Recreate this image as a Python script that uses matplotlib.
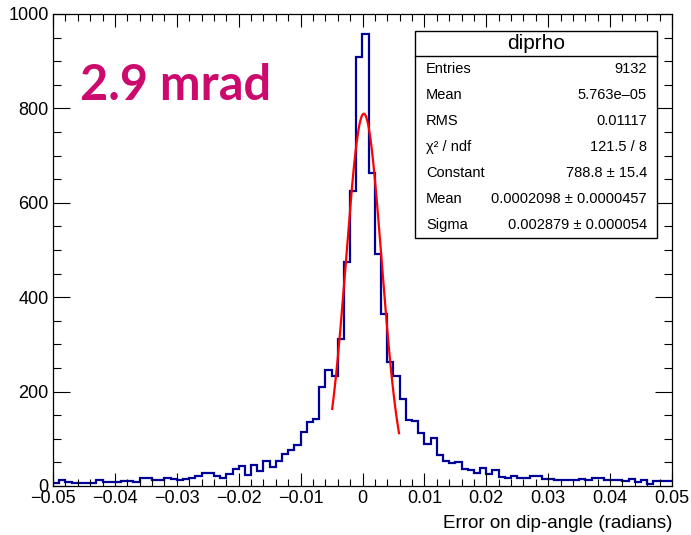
import numpy as np
import matplotlib.pyplot as plt
from matplotlib.patches import Rectangle
from matplotlib.ticker import MultipleLocator

plt.rcParams['font.family'] = ['Liberation Sans', 'DejaVu Sans']

W, H = 691, 535

# histogram "diprho": 100 bins from -0.05 to 0.05
x_lo, x_hi, n_bins = -0.05, 0.05, 100
counts = [6, 13, 9, 7, 6, 6, 7, 13, 9, 9,
          9, 11, 11, 9, 16, 16, 13, 13, 18, 14,
          13, 15, 17, 22, 28, 28, 22, 17, 26, 36,
          43, 24, 44, 32, 54, 41, 52, 68, 77, 86,
          114, 136, 142, 210, 245, 234, 311, 475, 626, 908,
          958, 664, 491, 365, 262, 234, 185, 140, 138, 113,
          89, 102, 66, 54, 49, 51, 37, 33, 27, 38,
          26, 34, 19, 16, 21, 18, 16, 21, 21, 14,
          14, 13, 13, 13, 13, 15, 13, 16, 16, 13,
          13, 13, 11, 15, 8, 12, 5, 10, 10, 10]

# gaussian fit parameters (from stats box)
fit_const, fit_mean, fit_sigma = 788.8, 0.0002098, 0.002879
fit_lo, fit_hi = -0.0049, 0.0059

stat_title = "diprho"
stat_names = ["Entries", "Mean", "RMS", "\u03c7\u00b2 / ndf", "Constant", "Mean", "Sigma"]
stat_values = ["9132", "5.763e\u201305", "0.01117", "121.5 / 8", "788.8 \u00b1 15.4",
               "0.0002098 \u00b1 0.0000457", "0.002879 \u00b1 0.000054"]

note = "2.9 mrad"
xlabel = "Error on dip-angle (radians)"

fig = plt.figure(figsize=(W / 100, H / 100), dpi=100)
ax = fig.add_axes([53 / W, 1 - 486 / H, (672 - 53) / W, (486 - 14) / H])

edges = np.linspace(x_lo, x_hi, n_bins + 1)
ax.stairs(counts, edges, color='#000099', linewidth=1.6, baseline=None)

xf = np.linspace(fit_lo, fit_hi, 200)
yf = fit_const * np.exp(-0.5 * ((xf - fit_mean) / fit_sigma) ** 2)
ax.plot(xf, yf, color='#ff0000', linewidth=1.6)

ax.set_xlim(x_lo, x_hi)
ax.set_ylim(0, 1000)
ax.xaxis.set_minor_locator(MultipleLocator(0.002))
ax.yaxis.set_major_locator(MultipleLocator(200))
ax.yaxis.set_minor_locator(MultipleLocator(50))
ax.set_xticks(np.arange(-0.05, 0.0501, 0.01))
ax.set_xticklabels(['\u22120.05', '\u22120.04', '\u22120.03', '\u22120.02', '\u22120.01',
                    '0', '0.01', '0.02', '0.03', '0.04', '0.05'])
ax.tick_params(axis='x', which='major', direction='in', length=9.5, width=0.8,
               top=True, labelsize=13, pad=3)
ax.tick_params(axis='x', which='minor', direction='in', length=5, width=0.8, top=True)
ax.tick_params(axis='y', which='major', direction='in', length=12, width=0.8,
               right=True, labelsize=13, pad=3)
ax.tick_params(axis='y', which='minor', direction='in', length=6, width=0.8, right=True)
for s in ax.spines.values():
    s.set_linewidth(0.9)

fig.text(672 / W, 1 - 524 / H, xlabel, ha='right', va='center', fontsize=13.5)

# stats box
bx0, bx1, by0, by1, sep = 415, 657, 31, 238, 56
box = Rectangle((bx0 / W, 1 - by1 / H), (bx1 - bx0) / W, (by1 - by0) / H,
                transform=fig.transFigure, facecolor='white', edgecolor='black',
                linewidth=1.0, zorder=5)
fig.patches.append(box)
fig.add_artist(plt.Line2D([bx0 / W, bx1 / W], [1 - sep / H, 1 - sep / H],
                          transform=fig.transFigure, color='black', linewidth=1.0, zorder=6))
fig.text((bx0 + bx1) / 2 / W, 1 - (by0 + sep) / 2 / H, stat_title, ha='center', va='center',
         fontsize=15, zorder=7)
row_h = (by1 - sep) / len(stat_names)
for i, (name, val) in enumerate(zip(stat_names, stat_values)):
    yc = 1 - (sep + row_h * (i + 0.5)) / H
    fig.text(426 / W, yc, name, ha='left', va='center', fontsize=10.5, zorder=7)
    fig.text(647 / W, yc, val, ha='right', va='center', fontsize=10.5, zorder=7)

fig.text(80 / W, 1 - 86 / H, note, ha='left', va='center', fontsize=35,
         fontweight='bold', color='#cc0a6e', family=['Lato', 'DejaVu Sans'])

fig.savefig('out.png', dpi=100)
